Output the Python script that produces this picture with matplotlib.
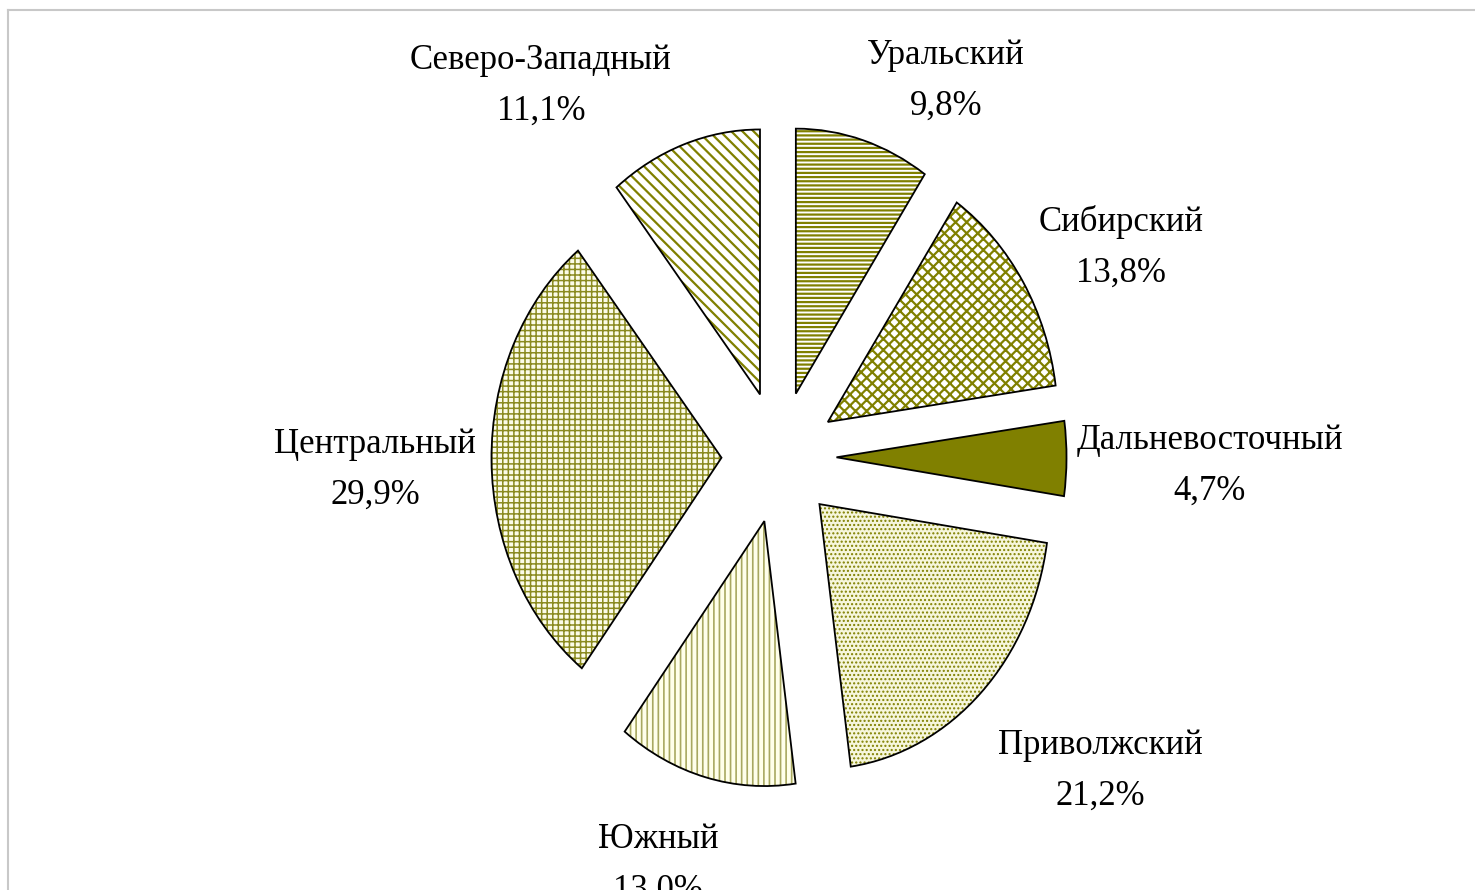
import numpy as np
import matplotlib.pyplot as plt
from matplotlib.lines import Line2D

# доли федеральных округов, %
regions = ['Уральский', 'Сибирский', 'Дальневосточный', 'Приволжский',
           'Южный', 'Центральный', 'Северо-Западный']
shares = [9.8, 13.8, 4.7, 21.2, 13.0, 29.9, 11.1]
share_labels = ['9,8%', '13,8%', '4,7%', '21,2%', '13,0%', '29,9%', '11,1%']

# оформление секторов
hatches = ['----', 'xxx', '', '....', '|||', '+++', '\\\\\\']
faces = ['white', 'white', '#808000', '#f6f6dc', '#ffffea', '#fbfbe8', 'white']
hcolors = ['#808000', '#808000', '#808000', '#808000', '#a8a860', '#8a8a20', '#808000']
hwidths = [1.6, 1.6, 1.0, 1.0, 1.2, 1.1, 1.6]
# положение подписей (в координатах осей)
label_xy = [(0.726, 1.42), (1.487, 0.79), (1.874, -0.034), (1.396, -1.185),
            (-0.526, -1.54), (-1.757, -0.05), (-1.035, 1.40)]

plt.rcParams['hatch.linewidth'] = 1.5

fig = plt.figure(figsize=(14.75, 8.9), dpi=100)
ax = fig.add_axes([0, 0, 1, 1])

explode = [0.25] * len(shares)
wedges, _ = ax.pie(shares, explode=explode, startangle=90, counterclock=False,
                   radius=1.0,
                   wedgeprops=dict(linewidth=0))
for w, h, fc, hc, hw in zip(wedges, hatches, faces, hcolors, hwidths):
    w.set_facecolor(fc)
    w.set_edgecolor(hc)
    w.set_hatch(h)
    w.set_linewidth(0)
    if hasattr(w, 'set_hatch_linewidth'):
        w.set_hatch_linewidth(hw)

# контуры секторов
ax.pie(shares, explode=explode, startangle=90, counterclock=False, radius=1.0,
       wedgeprops=dict(fill=False, edgecolor='black', linewidth=1.3))

for name, lab, (x, y) in zip(regions, share_labels, label_xy):
    ax.text(x, y, name + '\n' + lab, ha='center', va='center',
            fontsize=25, family='Liberation Serif', linespacing=1.7)

# эллипс как в оригинале
ax.set_aspect('auto')
cx, cy, sx, sy = 779, 457, 230, 265
ax.set_xlim(-cx / sx, (1475 - cx) / sx)
ax.set_ylim((cy - 890) / sy, cy / sy)
ax.axis('off')

# рамка
fig.add_artist(Line2D([8 / 1475, 1], [1 - 10 / 890, 1 - 10 / 890],
                      color='#c8c8c8', lw=1.5))
fig.add_artist(Line2D([8 / 1475, 8 / 1475], [0, 1 - 10 / 890],
                      color='#c8c8c8', lw=1.5))

fig.savefig('out.png', dpi=100)
